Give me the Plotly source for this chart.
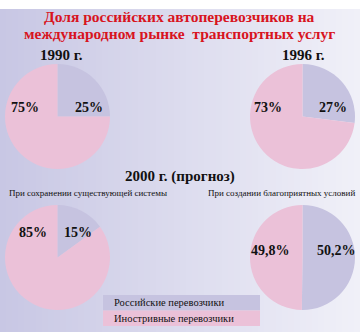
import plotly.graph_objects as go

categories = ["Российские перевозчики", "Иностривные перевозчики"]
titles = ["1990 г.", "1996 г.", "", ""]
russian = [25, 27, 15, 50.2]
foreign = [75, 73, 85, 49.8]
russian_lbl = ["25%", "27%", "15%", "50,2%"]
foreign_lbl = ["75%", "73%", "85%", "49,8%"]
title_lines = ["Доля российских автоперевозчиков на", "международном рынке  транспортных услуг"]
forecast_title = "2000 г. (прогноз)"
subtitles = ["При сохранении существующей системы", "При создании благоприятных условий"]

W, H = 360, 332
C_RU = "#c6c3e0"
C_FO = "#ebc1d8"
SERIF = "Liberation Serif"

def px(x):
    return x / W

def py(y):
    return 1 - y / H

# pie boxes in pixels (left, top)
boxes = [(5, 64), (250, 64), (5, 205), (250, 205)]
SIZE = 105

fig = go.Figure()
for i, (l, t) in enumerate(boxes):
    fig.add_trace(go.Pie(
        labels=categories, values=[russian[i], foreign[i]],
        marker=dict(colors=[C_RU, C_FO], line=dict(width=0)),
        sort=False, direction="clockwise", rotation=0,
        textinfo="none", hoverinfo="label+percent", showlegend=False,
        domain=dict(x=[px(l), px(l + SIZE)], y=[py(t + SIZE), py(t)]),
    ))

shapes = []
# gradient background
N = 60
c0 = (200, 199, 228)
c1 = (240, 240, 248)
for k in range(N):
    f = k / (N - 1)
    c = tuple(int(round(c0[j] + (c1[j] - c0[j]) * f)) for j in range(3))
    shapes.append(dict(type="rect", xref="paper", yref="paper",
                       x0=k / N, x1=(k + 1) / N + 0.002, y0=py(H), y1=py(9),
                       fillcolor="rgb(%d,%d,%d)" % c, line=dict(width=0), layer="below"))
# legend boxes
shapes.append(dict(type="rect", xref="paper", yref="paper", x0=px(103), x1=px(260),
                   y0=py(310.5), y1=py(295), fillcolor=C_RU, line=dict(width=0), layer="below"))
shapes.append(dict(type="rect", xref="paper", yref="paper", x0=px(103), x1=px(260),
                   y0=py(326), y1=py(310.5), fillcolor=C_FO, line=dict(width=0), layer="below"))

ann = []
def A(text, x, y, size, color="#111", bold=True, xanchor="center", family=SERIF):
    ann.append(dict(text=("<b>%s</b>" % text) if bold else text, x=px(x), y=py(y),
                    xref="paper", yref="paper", showarrow=False, xanchor=xanchor, yanchor="middle",
                    font=dict(family=family, size=size, color=color)))

A(title_lines[0], 179, 16, 15.5, color="#d8141e")
A(title_lines[1], 179, 34, 15.5, color="#d8141e")
A(titles[0], 61, 55, 15)
A(titles[1], 303, 55, 15)
A(forecast_title, 180, 176, 15)
A(subtitles[0], 7, 193, 9, bold=False, xanchor="left")
A(subtitles[1], 206, 193, 9, bold=False, xanchor="left")

label_pos_ru = [(89, 107), (333, 107), (78, 233), (336, 250)]
label_pos_fo = [(25, 107), (268, 107), (33, 233), (270, 250)]
for i in range(4):
    A(russian_lbl[i], *label_pos_ru[i], 14)
    A(foreign_lbl[i], *label_pos_fo[i], 14)

A(categories[0], 112, 302.5, 10.5, bold=False, xanchor="left")
A(categories[1], 112, 318, 10.5, bold=False, xanchor="left")

fig.update_layout(width=W, height=H, margin=dict(l=0, r=0, t=0, b=0),
                  paper_bgcolor="white", shapes=shapes, annotations=ann)
fig.write_html("out.html")
